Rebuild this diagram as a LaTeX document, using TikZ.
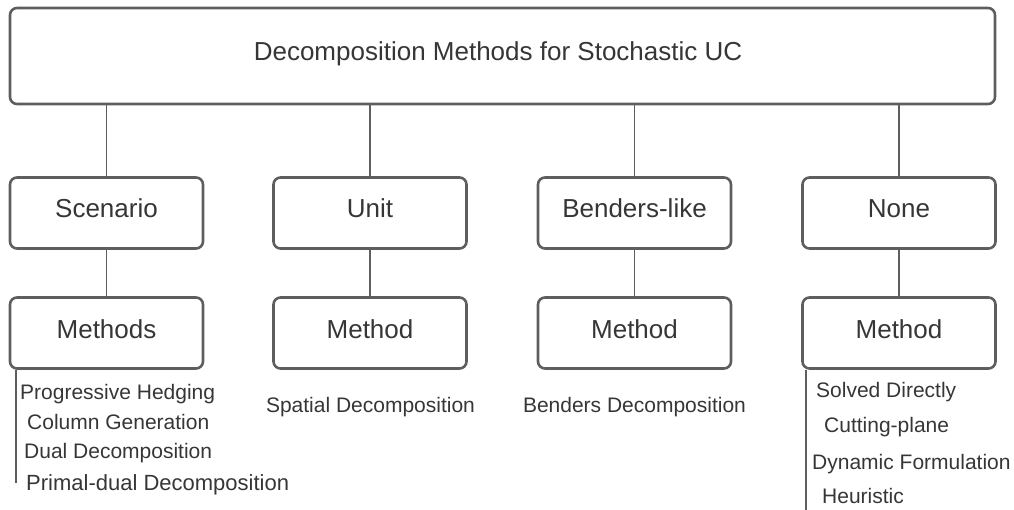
\documentclass[tikz,border=0pt]{standalone}
\usepackage{fontspec}
\setmainfont{Liberation Sans}
\definecolor{linegray}{HTML}{5E5E5E}
\definecolor{textgray}{HTML}{363636}
\begin{document}
\begin{tikzpicture}[x=1pt,y=-1pt,
  box/.style={draw=linegray, line width=2.6pt, rounded corners=7pt, fill=white,
    text=textgray, font=\fontsize{26}{30}\selectfont, inner sep=0pt,
    text height=19pt, text depth=9pt, minimum width=193pt, minimum height=71pt},
  link/.style={draw=linegray, line width=1.8pt},
  item/.style={text=textgray, font=\fontsize{21}{25}\selectfont, inner sep=0pt, anchor=base west},
  citem/.style={item, anchor=base}]
\useasboundingbox (0,0) rectangle (1014,510);

% root
\node[box, minimum width=985pt, minimum height=96pt] (root) at (502.5,56)
  {\hspace*{-9pt}Decomposition Methods for Stochastic UC};

% decomposition types
\node[box] (scen)  at (106.5,213) {Scenario};
\node[box] (unit)  at (370,213)   {Unit};
\node[box] (bend)  at (634.5,213) {Benders-like};
\node[box] (none)  at (899,213)   {None};

% method boxes
\node[box] (mscen) at (106.5,333) {Methods};
\node[box] (munit) at (370,333)   {Method};
\node[box] (mbend) at (634.5,333) {Method};
\node[box] (mnone) at (899,333)   {Method};

% tree connectors
\foreach \a/\b in {scen/mscen, unit/munit, bend/mbend, none/mnone}{
  \draw[link] (root.south -| \a.north) -- (\a.north);
  \draw[link] (\a.south) -- (\b.north);
}

% bracket lines under the outer method boxes
\coordinate (lend) at (16,483);
\coordinate (rend) at (806,510);
\draw[link] (mscen.south -| lend) -- (lend);
\draw[link] (mnone.south -| rend) -- (rend);

% scenario methods
\node[item] (ph) at (20,399) {Progressive Hedging};
\node[item] (cg) at (27,429) {Column Generation};
\node[item] (dd) at (24,458) {Dual Decomposition};
\node[item, font=\fontsize{22}{26}\selectfont] (pd) at (26,490) {Primal-dual Decomposition};

% unit / benders methods
\node[citem] (sd) at (370.5,412) {Spatial Decomposition};
\node[citem] (bd) at (634.5,412) {Benders Decomposition};

% direct methods
\node[item] (sdir) at (816,397) {Solved Directly};
\node[item] (cp)   at (824,432) {Cutting-plane};
\node[item] (dfm)  at (812,469) {Dynamic Formulation};
\node[item] (heu)  at (822,503) {Heuristic};
\end{tikzpicture}
\end{document}
